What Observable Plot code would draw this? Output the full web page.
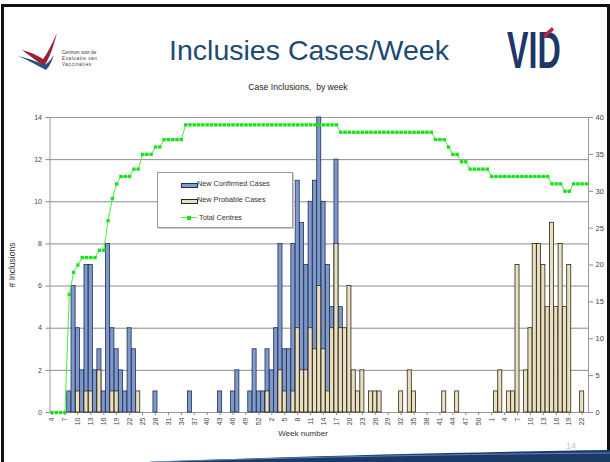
<!DOCTYPE html>
<html><head><meta charset="utf-8">
<script src="https://cdn.jsdelivr.net/npm/d3@7"></script>
<script src="https://cdn.jsdelivr.net/npm/@observablehq/plot@0.6"></script>
<style>
body{margin:0;background:#fff;}
#slide{position:relative;width:610px;height:462px;overflow:hidden;background:#fff;font-family:"Liberation Sans",Arial,sans-serif;}
.abs{position:absolute;white-space:nowrap;}
#chart{position:absolute;left:0;top:100px;}
.leg{position:absolute;font-size:7.3px;color:#333;line-height:8px;}
</style></head><body>
<div id="slide">
  <div class="abs" style="left:1px;top:4px;width:603px;height:500px;border:3px solid #111;"></div>
  <svg class="abs" style="left:0;top:0" width="130" height="80">
    <path d="M22,50 C30,56 38,62 44,66 C50,58 54,44 57,33 C52,44 47,54 43,59 C37,55 30,52 22,50 Z" fill="#9c1f33"/>
    <path d="M18,56 C28,60 38,66 46,70 C50,66 52,60 54,55 C50,61 47,64 44,65 C36,61 27,58 18,56 Z" fill="#2b4f86"/>
    <text x="62" y="54" font-size="4.6" fill="#333">Centrum voor de</text>
    <text x="62" y="60" font-size="4.6" fill="#333" letter-spacing="0.6"><tspan fill="#9c1f33">E</tspan>valuatie van</text>
    <text x="62" y="66" font-size="4.6" fill="#333" letter-spacing="0.6"><tspan fill="#9c1f33">V</tspan>accinaties</text>
  </svg>
  <div class="abs" style="left:0;width:618px;top:36px;text-align:center;font-size:28.5px;line-height:29px;color:#1d4a74;">Inclusies Cases/Week</div>
  <svg class="abs" style="left:490px;top:18px" width="100" height="60">
    <g transform="translate(17,50) scale(0.62,1)">
      <text x="0" y="0" font-size="52" font-weight="bold" fill="#1e3766">VID</text>
    </g>
    <path d="M53,17 L62,9 L64,12 L55,20 Z" fill="#c2223a"/>
  </svg>
  <div class="abs" style="left:0;width:596px;top:82px;text-align:center;font-size:8.6px;color:#222;">Case Inclusions,&nbsp; by week</div>
  <div class="abs" style="left:12px;top:265px;font-size:8.5px;color:#333;transform:translate(-50%,-50%) rotate(-90deg);transform-origin:center;"># Inclusions</div>
  <div id="chart"></div>
  <div class="abs" style="left:0;width:606px;top:429px;text-align:center;font-size:8px;color:#333;">Week number</div>
  <div class="abs" style="left:157px;top:172px;width:134px;height:54px;background:#fff;border:1px solid #9a9a9a;box-shadow:1px 1px 0 #ccc;"></div>
  <div class="abs" style="left:181px;top:182.5px;width:15px;height:3px;background:#7f99c8;border:0.8px solid #1f2e5e;"></div>
  <div class="leg" style="left:197px;top:180px;">New Confirmed Cases</div>
  <div class="abs" style="left:181px;top:198.5px;width:15px;height:3px;background:#eadfc0;border:0.8px solid #2b2718;"></div>
  <div class="leg" style="left:197px;top:196px;">New Probable Cases</div>
  <div class="abs" style="left:181px;top:217px;width:16px;height:1px;background:#44ee44;"></div>
  <div class="abs" style="left:187px;top:215.5px;width:4px;height:4px;background:#1fe01f;"></div>
  <div class="leg" style="left:199px;top:213.5px;">Total Centres</div>
  <svg class="abs" style="left:0;top:440px" width="610" height="22">
    <path d="M150,22 C300,16 470,12 610,10 L610,22 Z" fill="#1c3a68"/>
    <path d="M150,22 C300,17 470,14 610,13" fill="none" stroke="#5f86b8" stroke-width="1"/>
    <text x="566" y="9" font-size="9" fill="#c8c8c8">14</text>
  </svg>
</div>
<script>
// week number of each category (three successive seasons)
const weeks = [4,5,6,7,8,9,10,11,12,13,14,15,16,17,18,19,20,21,22,23,24,25,26,27,28,29,30,31,32,33,34,35,36,37,38,39,40,41,42,43,44,45,46,47,48,49,50,51,52,53,
  1,2,3,4,5,6,7,8,9,10,11,12,13,14,15,16,17,18,19,20,21,22,23,24,25,26,27,28,29,30,31,32,33,34,35,36,37,38,39,40,41,42,43,44,45,46,47,48,49,50,51,52,
  1,2,3,4,5,6,7,8,9,10,11,12,13,14,15,16,17,18,19,20,21,22,23];
const confirmed = [0,0,0,0,1,6,4,2,7,7, 2,3,1,8,4,3,2,1,4,3, 0,0,0,0,1,0,0,0,0,0, 0,0,1,0,0,0,0,0,0,1,
  0,0,1,2,0,0,1,3,1,1, 3,2,4,8,3,3,8,11,9,7, 10,11,14,10,7,5,12,5,0,0, 0,0,0,0,0,0,0,0,0,0,
  0,0,0,0,0,0,0,0,0,0, 0,0,0,0,0,0,0,0,0,0, 0,0,0,0,0,0,0,0,0,0, 0,0,0,0,0,0,0,0,0,0, 0,0,0,0,0];
const probable = [0,0,0,0,0,0,1,0,1,1, 0,2,0,0,1,1,0,0,0,0, 1,0,0,0,0,0,0,0,0,0, 0,0,0,0,0,0,0,0,0,0,
  0,0,0,0,0,0,0,0,0,0, 1,0,0,2,1,0,1,4,2,2, 4,3,6,3,1,4,8,4,4,6, 2,1,2,0,1,1,1,0,0,0,
  0,1,0,2,1,0,0,0,0,0, 0,1,0,0,1,0,0,0,0,0, 0,0,0,1,2,0,1,1,7,0, 2,4,8,8,7,5,9,5,8,5, 7,0,0,1,0];
const centres = [0,0,0,0,16,19,20,21,21,21, 21,22,22,26,29,31,32,32,32,33, 33,35,35,35,36,36,37,37,37,37,
  37,39,39,39,39,39,39,39,39,39, 39,39,39,39,39,39,39,39,39,39, 39,39,39,39,39,39,39,39,39,39,
  39,39,39,39,39,39,39,38,38,38, 38,38,38,38,38,38,38,38,38,38, 38,38,38,38,38,38,38,38,38,37,
  37,37,36,35,35,34,34,33,33,33, 33,33,32,32,32,32,32,32,32,32, 32,32,32,32,32,32,31,31,31,30,
  30,31,31,31,31];
const leftTicks = [0,2,4,6,8,10,12,14];
const rightTicks = [0,5,10,15,20,25,30,35,40];
const K = 14 / 40; // right axis (centres) mapped onto left axis units

const idx = weeks.map((_, i) => i);
const rows = idx.map(i => ({i, week: weeks[i], confirmed: confirmed[i], probable: probable[i], centres: centres[i]}));
const xTicks = idx.filter(i => i % 3 === 0);

const chart = Plot.plot({
  width: 610, height: 350,
  marginTop: 17, marginBottom: 38, marginLeft: 49.5, marginRight: 22,
  style: {background: "transparent", fontFamily: "'Liberation Sans', Arial, sans-serif", color: "#444", overflow: "visible"},
  x: {type: "band", domain: idx, paddingInner: 0.06, paddingOuter: 0},
  y: {domain: [0, 14]},
  marks: [
    Plot.gridY(leftTicks.slice(1), {stroke: "#8c8c8c", strokeOpacity: 1}),
    Plot.frame({stroke: "#9a9a9a"}),
    Plot.barY(rows.filter(d => d.confirmed > 0), {x: "i", y: "confirmed", fill: "#7f99c8", stroke: "#1f2e5e", strokeWidth: 0.8}),
    Plot.barY(rows.filter(d => d.probable > 0), {x: "i", y: "probable", fill: "#eadfc0", stroke: "#2b2718", strokeWidth: 0.8}),
    Plot.line(rows, {x: "i", y: d => d.centres * K, stroke: "#44ee44", strokeWidth: 1}),
    Plot.dot(rows, {x: "i", y: d => d.centres * K, symbol: "square", r: 1.9, fill: "#1fe01f"}),
    Plot.axisY(leftTicks, {anchor: "left", tickSize: 4, tickPadding: 4, fontSize: 7, stroke: "#888", label: null}),
    Plot.axisY(rightTicks.map(v => v * K), {anchor: "right", tickSize: 4, tickPadding: 3, fontSize: 7.5, stroke: "#888", tickFormat: d => Math.round(d / K), label: null}),
    Plot.axisX(xTicks, {anchor: "bottom", tickRotate: -90, tickSize: 3, tickPadding: 2, fontSize: 7, stroke: "#888", tickFormat: i => weeks[i], label: null})
  ]
});
document.getElementById("chart").appendChild(chart);
</script>
</body></html>
